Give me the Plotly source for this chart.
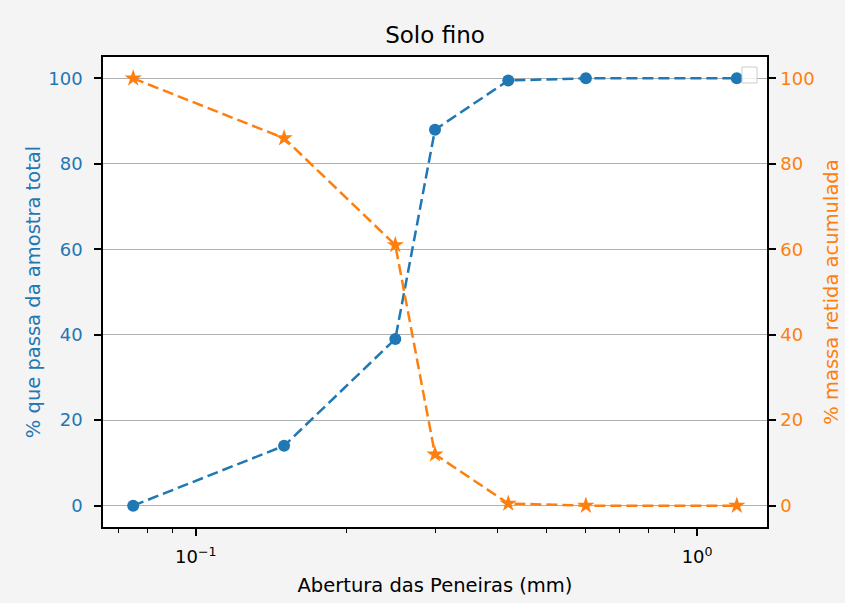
import numpy as np
import plotly.graph_objects as go

# Data
abertura_mm = [0.075, 0.15, 0.25, 0.3, 0.42, 0.6, 1.2]
passa_pct = [0.0, 14.0, 39.0, 88.0, 99.5, 100.0, 100.0]
retida_acum_pct = [100.0, 86.0, 61.0, 12.0, 0.5, 0.0, 0.0]

y_ticks = [0, 20, 40, 60, 80, 100]
x_major_ticks = [0.1, 1.0]
x_major_labels = ["10<sup>\u22121</sup>", "10<sup>0</sup>"]
x_minor_ticks = [0.07, 0.08, 0.09, 0.2, 0.3, 0.4, 0.5, 0.6, 0.7, 0.8, 0.9]

BLUE = "#1f77b4"
ORANGE = "#ff7f0e"
FONT = "DejaVu Sans"

lo, hi = np.log10(min(abertura_mm)), np.log10(max(abertura_mm))
pad = 0.05 * (hi - lo)
ymin, ymax = min(min(passa_pct), min(retida_acum_pct)), max(max(passa_pct), max(retida_acum_pct))
ypad = 0.05 * (ymax - ymin)

fig = go.Figure()
fig.add_trace(go.Scatter(
    x=abertura_mm, y=passa_pct, mode="lines+markers",
    line=dict(color=BLUE, width=2.5, dash="11px,5px"),
    marker=dict(symbol="circle", size=12, color=BLUE),
    yaxis="y", showlegend=False))
fig.add_trace(go.Scatter(
    x=abertura_mm, y=retida_acum_pct, mode="lines+markers",
    line=dict(color=ORANGE, width=2.5, dash="11px,5px"),
    marker=dict(symbol="star", size=13, color=ORANGE),
    yaxis="y2", showlegend=False))

fig.update_layout(
    width=845, height=603,
    margin=dict(l=103, r=78, t=57, b=76, autoexpand=False),
    paper_bgcolor="#f4f4f4", plot_bgcolor="white",
    font=dict(family=FONT, size=18, color="black"),
    title=dict(text="Solo fino", x=0.5, xref="paper", xanchor="center",
               y=1 - 35 / 603, yref="container", yanchor="middle",
               font=dict(family=FONT, size=23, color="black")),
    xaxis=dict(
        type="log", range=[lo - pad, hi + pad],
        tickmode="array", tickvals=x_major_ticks, ticktext=x_major_labels,
        ticks="outside", ticklen=7, tickwidth=1.5, tickcolor="black",
        minor=dict(tickmode="array", tickvals=x_minor_ticks, ticks="outside",
                   ticklen=4, tickwidth=1, tickcolor="black", showgrid=False),
        showgrid=False, zeroline=False,
        showline=True, linecolor="black", linewidth=1.5, mirror=True,
        ticklabelstandoff=6,
        title=dict(text="Abertura das Peneiras (mm)", standoff=12,
                   font=dict(family=FONT, size=19.5, color="black")),
        tickfont=dict(family=FONT, size=18, color="black"),
    ),
    yaxis=dict(
        range=[ymin - ypad, ymax + ypad], tickmode="array", tickvals=y_ticks,
        ticks="outside", ticklen=7, tickwidth=1.5, tickcolor="black",
        showgrid=True, gridcolor="#b0b0b0", gridwidth=1.3, zeroline=False,
        showline=True, linecolor="black", linewidth=1.5,
        ticklabelstandoff=8,
        title=dict(text="% que passa da amostra total", standoff=2,
                   font=dict(family=FONT, size=19.5, color=BLUE)),
        tickfont=dict(family=FONT, size=18, color=BLUE),
    ),
    yaxis2=dict(
        range=[ymin - ypad, ymax + ypad], tickmode="array", tickvals=y_ticks,
        overlaying="y", side="right",
        ticks="outside", ticklen=7, tickwidth=1.5, tickcolor="black",
        showgrid=False, zeroline=False,
        showline=True, linecolor="black", linewidth=1.5,
        ticklabelstandoff=1,
        title=dict(text="% massa retida acumulada", standoff=11,
                   font=dict(family=FONT, size=19.5, color=ORANGE)),
        tickfont=dict(family=FONT, size=18, color=ORANGE),
    ),
    shapes=[dict(type="rect", xref="paper", yref="paper",
                 x0=0.9623, x1=0.985, y0=0.9447, y1=0.9787,
                 fillcolor="rgba(255,255,255,0.8)",
                 line=dict(color="#cccccc", width=1), layer="above")],
)

fig.write_html(
    "out.html",
    config={"displayModeBar": False},
    post_script="document.body.style.margin='0';document.body.style.overflow='hidden';",
)
